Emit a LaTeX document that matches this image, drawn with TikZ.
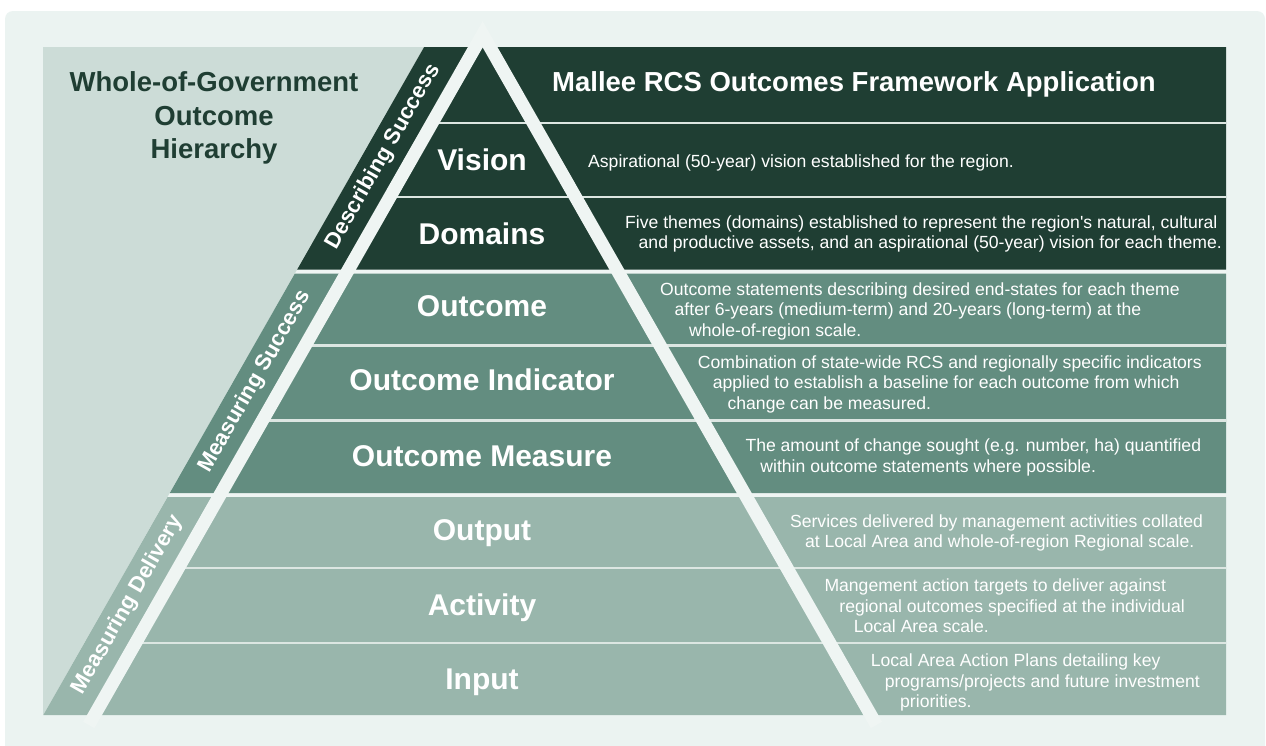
\documentclass[tikz,border=0pt]{standalone}
\usepackage{fontspec}
\setmainfont{Liberation Sans}
\definecolor{outerbg}{HTML}{EBF3F1}
\definecolor{panelbg}{HTML}{CCDCD7}
\definecolor{gapcol}{HTML}{EFF5F3}
\definecolor{rowline}{HTML}{DCE6E2}
\definecolor{tierdark}{HTML}{1F3E33}
\definecolor{tiermid}{HTML}{638D80}
\definecolor{tierlight}{HTML}{99B6AC}
\begin{document}
\begin{tikzpicture}[x=1pt,y=-1pt,
  heading/.style={font=\bfseries\fontsize{27.5}{33.3}\selectfont, text=tierdark, align=center, inner sep=0pt},
  apptitle/.style={font=\bfseries\fontsize{27.5}{33}\selectfont, text=white, inner sep=0pt},
  level/.style={font=\bfseries\fontsize{30}{36}\selectfont, text=white, inner sep=0pt, anchor=base},
  desc/.style={font=\fontsize{17.6}{20.6}\selectfont, text=white, align=left, inner sep=0pt, anchor=base west},
  band/.style={font=\bfseries\fontsize{22}{26}\selectfont, text=white, inner sep=0pt, rotate=60.3},
  rowsep/.style={draw=rowline, line width=2.3pt},
]
\useasboundingbox (0,0) rectangle (1266,745);
% page and outer card
\fill[white] (0,0) rectangle (1266,745);
\fill[outerbg, rounded corners=8pt] (5,11) rectangle (1265,765);

% inner panel and the slanted region holding the three tiers
\fill[panelbg] (43.3,47) rectangle (1226,715);
\fill[gapcol] (424.1,47) -- (1226,47) -- (1226,715) -- (43.3,715) -- cycle;
\fill[tierdark]  (424.1,47)  -- (1226,47)  -- (1226,269.5) -- (297.2,269.5) -- cycle;
\fill[tiermid]   (294.9,273.5) -- (1226,273.5) -- (1226,493) -- (169.8,493) -- cycle;
\fill[tierlight] (167.6,497) -- (1226,497) -- (1226,715) -- (43.3,715) -- cycle;

% thin separators between the rows of each tier
\draw[rowsep] (431.9,123) -- (1226,123);
\draw[rowsep] (389.8,197) -- (1226,197);
\draw[rowsep] (305.2,345.5) -- (1226,345.5);
\draw[rowsep] (262.4,420.5) -- (1226,420.5);
\draw[rowsep] (178.1,568.3) -- (1226,568.3);
\draw[rowsep] (135.4,643.3) -- (1226,643.3);

% pyramid outline
\coordinate (apex) at (482.65,34.3);
\coordinate (baseL) at (88.8,725);
\coordinate (baseR) at (876.5,725);
\draw[gapcol, line width=13pt, line join=miter] (baseL) -- (apex) -- (baseR);

% headings (multi-line nodes sit on the baseline of their last line)
\node[heading, anchor=base] (hier) at (214,158.3) {Whole-of-Government\\Outcome\\Hierarchy};
\node[apptitle, anchor=base] (app) at (854,91.7) {Mallee RCS Outcomes Framework Application};

% slanted tier labels
\node[band] (describing) at (383.4,156.7) {Describing Success};
\node[band] (measuring) at (255.2,381.7) {Measuring Success};
\node[band] (delivery) at (127.9,605) {Measuring Delivery};

% hierarchy levels
\node[level] (vision)    at (482,170)   {Vision};
\node[level] (domains)   at (482,244)   {Domains};
\node[level] (outcome)   at (482,316)   {Outcome};
\node[level] (indicator) at (482,390.7) {Outcome Indicator};
\node[level] (measure)   at (482,466)   {Outcome Measure};
\node[level] (output)    at (482,540.7) {Output};
\node[level] (activity)  at (482,615.7) {Activity};
\node[level] (input)     at (482,689.3) {Input};

% level descriptions, each line stepped along the pyramid edge
\node[desc] (dvision) at (588,167) {Aspirational (50-year) vision established for the region.};
\node[desc] (ddomains) at (625,248.9) {Five themes (domains) established to represent the region\textquotesingle s natural, cultural\\\hspace*{13.5pt}and productive assets, and an aspirational (50-year) vision for each theme.};
\node[desc] (doutcome) at (660,336.2) {Outcome statements describing desired end-states for each theme\\\hspace*{14.5pt}after 6-years (medium-term) and 20-years (long-term) at the\\\hspace*{29pt}whole-of-region scale.};
\node[desc] (dindicator) at (697.7,409.5) {Combination of state-wide RCS and regionally specific indicators\\\hspace*{14.9pt}applied to establish a baseline for each outcome from which\\\hspace*{29.7pt}change can be measured.};
\node[desc] (dmeasure) at (745.3,472.5) {The amount of change sought (e.g. number, ha) quantified\\\hspace*{14.9pt}within outcome statements where possible.};
\node[desc] (doutput) at (789.9,547.9) {Services delivered by management activities collated\\\hspace*{14.9pt}at Local Area and whole-of-region Regional scale.};
\node[desc] (dactivity) at (824.3,632.9) {Mangement action targets to deliver against\\\hspace*{14.9pt}regional outcomes specified at the individual\\\hspace*{29.3pt}Local Area scale.};
\node[desc] (dinput) at (870.6,707.9) {Local Area Action Plans detailing key\\\hspace*{14pt}programs/projects and future investment\\\hspace*{29.4pt}priorities.};
\end{tikzpicture}
\end{document}
